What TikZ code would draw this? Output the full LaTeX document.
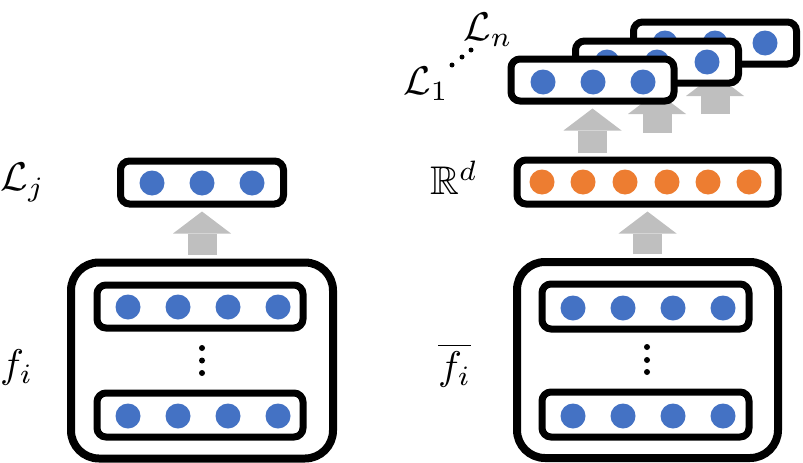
\documentclass[tikz,border=0pt]{standalone}
\usepackage{amssymb}
\usetikzlibrary{arrows.meta}
\definecolor{dotblue}{HTML}{4472C4}
\definecolor{dotorange}{HTML}{ED7D31}
\definecolor{arrgray}{HTML}{BFBFBF}
\newcommand{\biglab}[1]{\scalebox{4}{$#1$}}
\begin{document}
\begin{tikzpicture}[x=1pt,y=-1pt,
 vec/.style={draw=black, line width=7pt, rounded corners=9pt, fill=white, minimum width=163pt, minimum height=43pt, inner sep=0pt},
 group/.style={draw=black, line width=8pt, rounded corners=28pt, minimum width=262pt, minimum height=196pt, inner sep=0pt},
 bdot/.style={circle, fill=dotblue, minimum size=25pt, inner sep=0pt},
 odot/.style={circle, fill=dotorange, minimum size=25pt, inner sep=0pt},
 sdot/.style={circle, fill=black, minimum size=6pt, inner sep=0pt},
 tdot/.style={circle, fill=black, minimum size=5pt, inner sep=0pt},
 flow/.style={arrgray, line width=29pt, -{Triangle[width=58pt,length=22pt,line width=0pt]}, shorten <=4pt, shorten >=4pt},
 lab/.style={inner sep=0pt}
]
\useasboundingbox (0,0) rectangle (803,463);

% ---------- left column ----------
\node[vec] (lj) at (202,182.5) {};
\foreach \i/\x in {1/152,2/202,3/252} \node[bdot] (ljd\i) at (\x,183) {};
\node[group] (lg) at (202,360.5) {};
\node[vec, minimum width=206pt] (lt) at (200,306.5) {};
\foreach \i/\x in {1/128,2/178,3/228,4/278} \node[bdot] (ltd\i) at (\x,307) {};
\node[vec, minimum width=206pt, minimum height=44pt] (lb) at (200,415) {};
\foreach \i/\x in {1/128,2/178,3/228,4/278} \node[bdot] (lbd\i) at (\x,416) {};
\foreach \i/\y in {1/348,2/360.5,3/373} \node[sdot] (lv\i) at (202,\y) {};
\draw[flow] (lg.north) -- (lj.south);

\node[lab, anchor=west] (llj) at (0,183) {\biglab{\mathcal{L}_j}};
\node[lab, anchor=west] (lfi) at (0,367) {\biglab{f_i}};

% ---------- right column ----------
\node[vec, minimum width=261pt, minimum height=44pt] (rd) at (647.5,182) {};
\foreach \i/\x in {1/542,2/583,3/625,4/667,5/708,6/749} \node[odot] (rdd\i) at (\x,182) {};
\node[group, minimum width=261pt] (rg) at (647.5,360) {};
\node[vec, minimum width=207pt, minimum height=45pt] (rt) at (645.5,306.5) {};
\foreach \i/\x in {1/573,2/623,3/673,4/723} \node[bdot] (rtd\i) at (\x,308) {};
\node[vec, minimum width=207pt, minimum height=45pt] (rb) at (645.5,414.5) {};
\foreach \i/\x in {1/573,2/623,3/673,4/723} \node[bdot] (rbd\i) at (\x,416) {};
\foreach \i/\y in {1/347,2/360,3/372} \node[sdot] (rv\i) at (647,\y) {};
\draw[flow] (rg.north) -- (rd.south);

\node[lab, anchor=west] (lrd) at (430,178) {\biglab{\mathbb{R}^d}};
\node[lab, anchor=west] (lfb) at (438,365) {\biglab{\overline{f_i}}};

% ---------- stacked heads ----------
\coordinate (a3) at (715,114);
\coordinate (a2) at (657,133);
\draw[flow, shorten <=0pt] (a3) -- (715,70);
\node[vec, minimum height=42pt] (b3) at (715,43) {};
\foreach \i/\x in {1/665,2/715,3/765} \node[bdot] (b3d\i) at (\x,43) {};
\draw[flow, shorten <=0pt] (a2) -- (657,88);
\node[vec, minimum height=42pt] (b2) at (657,62) {};
\foreach \i/\x in {1/607,2/657,3/707} \node[bdot] (b2d\i) at (\x,62) {};
\draw[flow] (rd.north -| 592.5,0) -- (592.5,104.5);
\node[vec, minimum height=42pt] (b1) at (592.5,80) {};
\foreach \i/\x in {1/543,2/593,3/643} \node[bdot] (b1d\i) at (\x,82) {};

\node[lab, anchor=west] (ll1) at (403,84) {\biglab{\mathcal{L}_1}};
\node[lab, anchor=west] (lln) at (463,30) {\biglab{\mathcal{L}_n}};
\foreach \i/\x/\y in {1/452/65,2/462/57,3/471/50} \node[tdot] (dd\i) at (\x,\y) {};
\end{tikzpicture}
\end{document}
